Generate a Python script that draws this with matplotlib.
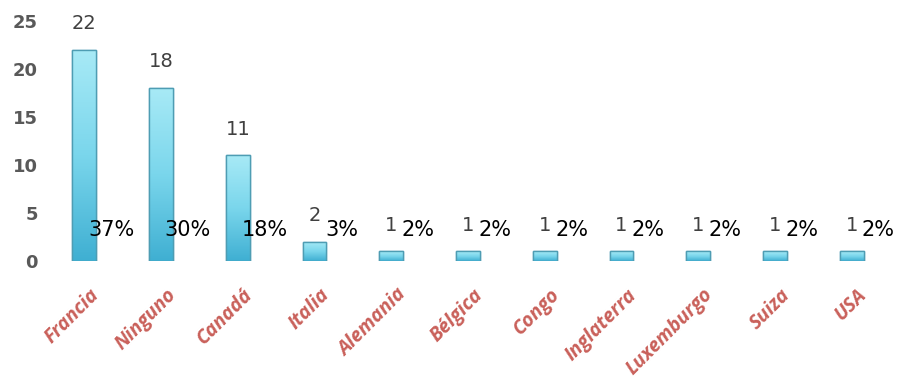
import numpy as np
import matplotlib.pyplot as plt
import matplotlib.transforms as mtransforms
from matplotlib.colors import LinearSegmentedColormap

paises = ['Francia', 'Ninguno', 'Canadá', 'Italia', 'Alemania', 'Bélgica',
          'Congo', 'Inglaterra', 'Luxemburgo', 'Suiza', 'USA']
cantidad = [22, 18, 11, 2, 1, 1, 1, 1, 1, 1, 1]
porcentaje = ['37%', '30%', '18%', '3%', '2%', '2%', '2%', '2%', '2%', '2%', '2%']
yticks = [0, 5, 10, 15, 20, 25]

fig = plt.figure(figsize=(8.99, 3.86), dpi=100)
ax = fig.add_axes([46 / 899, 1 - 261 / 386, (890 - 46) / 899, 240 / 386])

x = np.arange(len(paises))
bars = ax.bar(x, cantidad, width=0.31, color='#6CCFE6',
              edgecolor='#4E9DB3', linewidth=1.0, zorder=2)

# vertical gradient inside every bar
cmap = LinearSegmentedColormap.from_list('barra', ['#3FAFD2', '#7AD6EC', '#A8EAF6'])
grad = np.linspace(0, 1, 256).reshape(-1, 1)
for b in bars:
    x0, y0 = b.get_x(), b.get_y()
    w, h = b.get_width(), b.get_height()
    im = ax.imshow(grad, cmap=cmap, origin='lower', aspect='auto',
                   extent=[x0, x0 + w, y0, y0 + h], zorder=2.5)
    im.set_clip_path(b)
    ax.add_patch(plt.Rectangle((x0, y0), w, h, fill=False,
                               edgecolor='#4E9DB3', linewidth=1.0, zorder=3))

# value labels and percentages
for xi, v, p in zip(x, cantidad, porcentaje):
    ax.annotate(str(v), (xi, v), xytext=(0, 19), textcoords='offset points',
                ha='center', va='center', fontsize=14, color='#404040',
                annotation_clip=False, zorder=4)
    ax.text(xi + 0.35, 3.2, p, ha='center', va='center', fontsize=15,
            color='black', zorder=4)

ax.set_xlim(-0.5, len(paises) - 0.5)
ax.set_ylim(0, 25)
ax.set_yticks(yticks)
ax.set_yticklabels([str(t) for t in yticks], fontsize=13, fontweight='bold',
                   color='#595959')
ax.tick_params(axis='y', length=0, pad=6)
ax.tick_params(axis='x', length=0, pad=0)
ax.set_xticks(x)
ax.set_xticklabels(paises, rotation=45, ha='right', rotation_mode='anchor',
                   fontsize=14, fontweight='bold', fontstyle='italic',
                   color='#C9605A', family='Open Sans')
shift = mtransforms.ScaledTranslation(5 / 100, -24 / 100, fig.dpi_scale_trans)
for lbl in ax.get_xticklabels():
    lbl.set_transform(lbl.get_transform() + shift)
for s in ax.spines.values():
    s.set_visible(False)

fig.savefig('out.png', dpi=100)
